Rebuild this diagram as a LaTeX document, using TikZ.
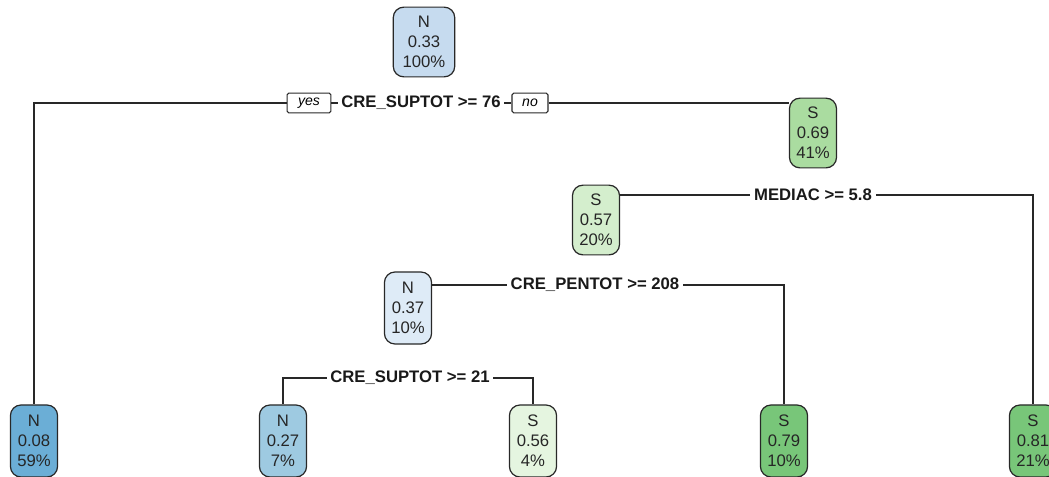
\documentclass[tikz,border=0pt]{standalone}
\usepackage{fontspec}
\setmainfont{Liberation Sans}
\usepackage{xcolor}
\definecolor{nblue1}{RGB}{198,219,239}
\definecolor{nblue2}{RGB}{107,174,214}
\definecolor{nblue3}{RGB}{158,202,225}
\definecolor{nblue4}{RGB}{222,235,247}
\definecolor{sgreen1}{RGB}{170,220,160}
\definecolor{sgreen2}{RGB}{212,238,205}
\definecolor{sgreen3}{RGB}{229,245,224}
\definecolor{sgreen4}{RGB}{120,198,121}
\definecolor{edgegray}{RGB}{40,40,40}
\usetikzlibrary{positioning}

\begin{document}
\begin{tikzpicture}[x=0.02cm, y=-0.02cm,
  treenode/.style={draw=edgegray, line width=0.7pt, rounded corners=6pt, align=center,
        font=\fontsize{9.5}{11.3}\selectfont, text=black!85, inner sep=0pt,
        minimum width=26.8pt, minimum height=39.7pt},
  rootnode/.style={treenode, minimum width=35pt},
  splitlabel/.style={font=\fontsize{9.5}{11}\selectfont\bfseries, text=black!90, inner xsep=2pt, inner ysep=1pt},
  yesno/.style={draw=edgegray, line width=0.6pt, rounded corners=1pt, font=\fontsize{8}{9}\selectfont\itshape,
        inner sep=0pt, minimum height=11.2pt},
  branch/.style={draw=edgegray, line width=0.75pt}]

\useasboundingbox (0,0) rectangle (1049,477);
\clip (0,0) rectangle (1049,477);

% --- root split ---
\node[rootnode, fill=nblue1] (root) at (424,42) {N\\0.33\\100\%};
\node[splitlabel] (s1) at (421,103) {CRE\_SUPTOT >= 76};
\node[yesno, minimum width=25pt] (yes) at (309,103) {yes};
\node[yesno, minimum width=20.5pt] (no) at (530,103) {no};

% --- right branch ---
\node[treenode, fill=sgreen1] (n2) at (813,133) {S\\0.69\\41\%};
\node[splitlabel] (s2) at (813,195) {MEDIAC >= 5.8};
\node[treenode, fill=sgreen2] (n3) at (596,220) {S\\0.57\\20\%};
\node[splitlabel] (s3) at (595,285) {CRE\_PENTOT >= 208};
\node[treenode, fill=nblue4, minimum height=41pt] (n4) at (408,308) {N\\0.37\\10\%};
\node[splitlabel] (s4) at (410,378) {CRE\_SUPTOT >= 21};

% --- leaves ---
\node[treenode, fill=nblue2, minimum height=41pt] (l1) at (34,441) {N\\0.08\\59\%};
\node[treenode, fill=nblue3, minimum height=41pt] (l2) at (283,441) {N\\0.27\\7\%};
\node[treenode, fill=sgreen3, minimum height=41pt] (l3) at (533,441) {S\\0.56\\4\%};
\node[treenode, fill=sgreen4, minimum height=41pt] (l4) at (784,441) {S\\0.79\\10\%};
\node[treenode, fill=sgreen4, minimum height=41pt] (l5) at (1033,441) {S\\0.81\\21\%};

% --- branches ---
\draw[branch] (s1.west) -- (yes.east);
\draw[branch] (yes.west) -| (l1.north);
\draw[branch] (s1.east) -- (no.west);
\draw[branch] (no.east) -- (no.east -| n2.west);

\draw[branch] (s2.west) -- (s2.west -| n3.east);
\draw[branch] (s2.east) -| (l5.north);

\draw[branch] (s3.west) -- (s3.west -| n4.east);
\draw[branch] (s3.east) -| (l4.north);

\draw[branch] (s4.west) -| (l2.north);
\draw[branch] (s4.east) -| (l3.north);

\end{tikzpicture}
\end{document}
